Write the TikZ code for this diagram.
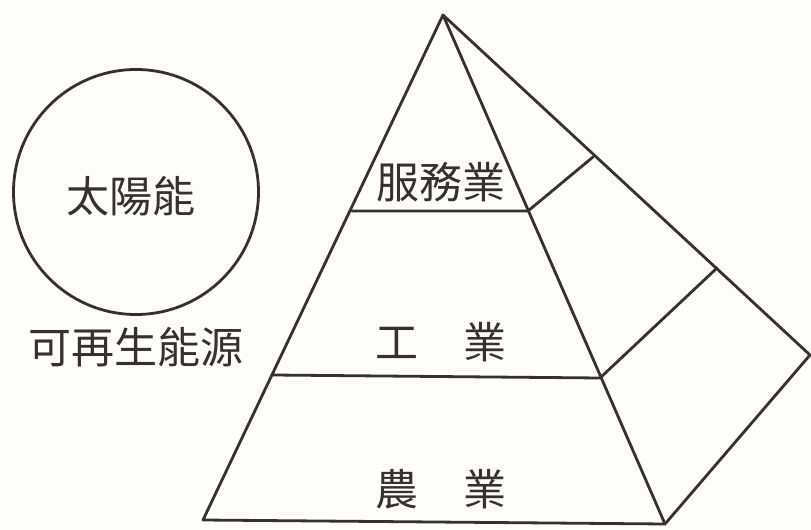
\documentclass[tikz,border=0pt]{standalone}
\usepackage{fontspec}
\newfontfamily\cjk{Noto Sans CJK TC}
\definecolor{ink}{HTML}{36312C}
\definecolor{paper}{HTML}{FEFDF9}
\tikzset{
  edge/.style={draw=ink, line width=2.8bp, line join=round, line cap=round},
  lbl/.style={text=ink, font=\cjk\fontsize{43bp}{46bp}\selectfont, inner sep=0pt},
  sunring/.style={circle, draw=ink, line width=2.8bp, minimum size=245bp, inner sep=0pt}
}
\begin{document}
\begin{tikzpicture}[x=1bp,y=-1bp]
\useasboundingbox (0,0) rectangle (811,530);
\fill[paper] (0,0) rectangle (811,530);
% pyramid corners
\coordinate (apex) at (443,15);
\coordinate (bl) at (203,520);
\coordinate (br) at (665,524);
\coordinate (rc) at (810,355);
% level points
\coordinate (l1) at (352,211);
\coordinate (m1) at (528,211);
\coordinate (s1) at (593,157);
\coordinate (l2) at (273,375);
\coordinate (m2) at (600,378);
\coordinate (s2) at (717,268);
\draw[edge] (apex) -- (bl) -- (br) -- (rc) -- cycle;
\draw[edge] (apex) -- (br);
\draw[edge] (l1) -- (m1) -- (s1);
\draw[edge] (l2) -- (m2) -- (s2);
% labels
\node[lbl] (svc) at (441,182) {服務業};
\node[lbl] (ind) at (441,342) {工\hspace{46bp}業};
\node[lbl] (agr) at (441,489) {農\hspace{46bp}業};
% sun
\node[sunring] (sun) at (136,192) {};
\node[lbl] (sunt) at (131,196) {太陽能};
\node[lbl] (renew) at (136,347) {可再生能源};
\end{tikzpicture}
\end{document}
